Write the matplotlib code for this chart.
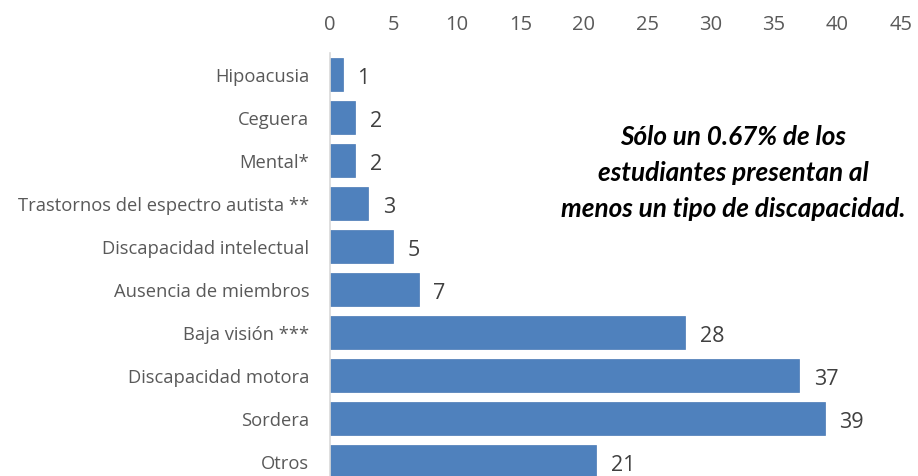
import matplotlib.pyplot as plt

categorias = [
    "Hipoacusia",
    "Ceguera",
    "Mental*",
    "Trastornos del espectro autista **",
    "Discapacidad intelectual",
    "Ausencia de miembros",
    "Baja visión ***",
    "Discapacidad motora",
    "Sordera",
    "Otros",
]
valores = [1, 2, 2, 3, 5, 7, 28, 37, 39, 21]
ticks_x = [0, 5, 10, 15, 20, 25, 30, 35, 40, 45]
nota = "Sólo un 0.67% de los\nestudiantes presentan al\nmenos un tipo de discapacidad."

plt.rcParams["font.family"] = ["Open Sans", "DejaVu Sans"]

fig = plt.figure(figsize=(9.18, 4.76), dpi=100)
ax = fig.add_axes([330 / 918, 0, 571 / 918, 423 / 476])

pos = list(range(len(categorias)))
ax.barh(pos, valores, height=0.77, color="#4f81bd", edgecolor="#4a7ab5", linewidth=0.5)

for p, v in zip(pos, valores):
    ax.text(v + 1.15, p + 0.08, str(v), va="center", ha="left", fontsize=15.5, color="#404040")

ax.set_xlim(0, 45)
ax.set_ylim(9.33, -0.51)
ax.set_yticks(pos)
ax.set_yticklabels(categorias, fontsize=13.2, color="#595959")
ax.set_xticks(ticks_x)
ax.xaxis.tick_top()
ax.tick_params(axis="x", length=0, pad=13, labelsize=14.5, labelcolor="#595959")
ax.tick_params(axis="y", length=0, pad=15)

for s in ["top", "right", "bottom"]:
    ax.spines[s].set_visible(False)
ax.spines["left"].set_color("#d9d9d9")
ax.spines["left"].set_linewidth(1.2)

ax.text(31.8, 2.28, nota, ha="center", va="center", fontsize=18.8, fontstyle="italic",
        fontweight="bold", color="black", linespacing=1.62, family=["Lato", "DejaVu Sans"])

fig.savefig("out.png", dpi=100)
